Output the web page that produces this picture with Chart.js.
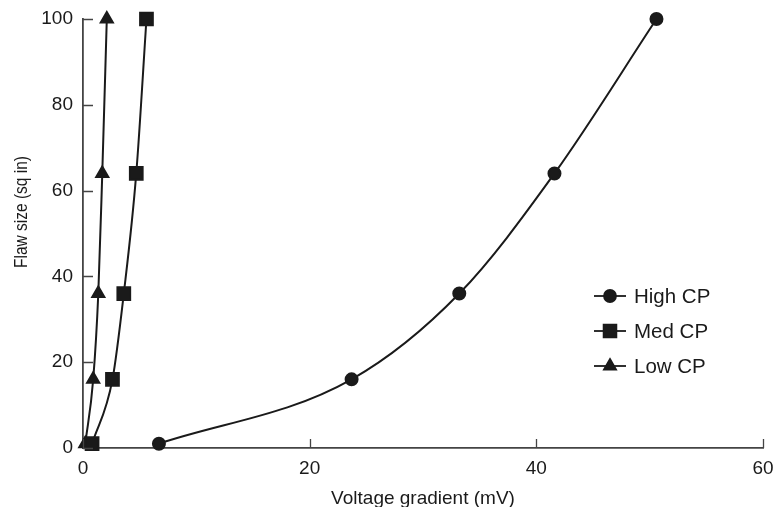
<!DOCTYPE html>
<html>
<head>
<meta charset="utf-8">
<script src="https://cdn.jsdelivr.net/npm/chart.js@4"></script>
<style>
  html, body { margin: 0; padding: 0; background: #fff; }
  #wrap { width: 779px; height: 507px; }
</style>
</head>
<body>
<div id="wrap"><canvas id="chart" width="779" height="507"></canvas></div>
<script>
// data
const seriesNames = ["High CP", "Med CP", "Low CP"];
const flawSize = [1, 16, 36, 64, 100];
const highCP = [6.7, 23.7, 33.2, 41.6, 50.6];
const medCP = [0.8, 2.6, 3.6, 4.7, 5.6];
const lowCP = [0.2, 0.9, 1.35, 1.7, 2.1];
const xTicks = [0, 20, 40, 60];
const yTicks = [0, 20, 40, 60, 80, 100];
const yTitle = "Flaw size (sq in)";

const ink = "#1a1a1a";
const font = "'Liberation Sans', Arial, sans-serif";

function toPoints(xs) {
  return xs.map((x, i) => ({ x: x, y: flawSize[i] }));
}

// inward tick marks, drawn from the scales, plus the (narrow) y title
const innerTicks = {
  id: "innerTicks",
  afterDraw(chart) {
    const ctx = chart.ctx;
    const xs = chart.scales.x, ys = chart.scales.y;
    ctx.save();
    ctx.strokeStyle = "#444";
    ctx.lineWidth = 1.3;
    ctx.beginPath();
    xTicks.forEach((v) => {
      const px = Math.round(xs.getPixelForValue(v)) + 0.5;
      ctx.moveTo(px, ys.bottom);
      ctx.lineTo(px, ys.bottom - 9);
    });
    yTicks.forEach((v) => {
      const py = Math.round(ys.getPixelForValue(v)) + 0.5;
      ctx.moveTo(xs.left, py);
      ctx.lineTo(xs.left + 10, py);
    });
    ctx.stroke();

    ctx.translate(22, 212);
    ctx.rotate(-Math.PI / 2);
    ctx.scale(0.86, 1);
    ctx.fillStyle = ink;
    ctx.font = "18px " + font;
    ctx.textAlign = "center";
    ctx.textBaseline = "middle";
    ctx.fillText(yTitle, 0, 0);
    ctx.restore();
  },
};

// legend with a line through the marker
const lineLegend = {
  id: "lineLegend",
  afterDraw(chart) {
    const ctx = chart.ctx;
    ctx.save();
    chart.data.datasets.forEach((ds, i) => {
      const y = 296 + i * 35;
      ctx.strokeStyle = ink;
      ctx.lineWidth = 1.8;
      ctx.beginPath();
      ctx.moveTo(594, y);
      ctx.lineTo(626, y);
      ctx.stroke();
      Chart.helpers.drawPoint(ctx, {
        pointStyle: ds.pointStyle,
        radius: ds.pointRadius,
        borderWidth: 1,
      }, 610, y);
      ctx.fillStyle = ink;
      ctx.fill();
      ctx.font = "20.5px " + font;
      ctx.textBaseline = "middle";
      ctx.fillText(ds.label, 634, y + 1);
    });
    ctx.restore();
  },
};

function makeSet(label, xs, style, radius) {
  return {
    label: label,
    data: toPoints(xs),
    borderColor: ink,
    backgroundColor: ink,
    borderWidth: 2,
    pointStyle: style,
    pointRadius: radius,
    pointBackgroundColor: ink,
    pointBorderColor: ink,
    cubicInterpolationMode: "monotone",
    showLine: true,
    clip: false,
  };
}

new Chart(document.getElementById("chart"), {
  type: "scatter",
  data: {
    datasets: [
      makeSet(seriesNames[0], highCP, "circle", 6),
      makeSet(seriesNames[1], medCP, "rect", 9),
      makeSet(seriesNames[2], lowCP, "triangle", 7),
    ],
  },
  options: {
    responsive: false,
    animation: false,
    layout: { padding: { top: 19, right: 16, left: 0, bottom: 0 } },
    plugins: { legend: { display: false }, tooltip: { enabled: false } },
    scales: {
      x: {
        type: "linear",
        min: 0,
        max: 60,
        afterFit: (s) => { s.height = 59; s.paddingLeft = 0; s.paddingRight = 0; },
        afterBuildTicks: (s) => { s.ticks = xTicks.map((v) => ({ value: v })); },
        border: { display: true, color: "#444", width: 1.8 },
        grid: { display: false, drawTicks: false },
        ticks: { color: ink, font: { family: font, size: 19 }, padding: 9, maxRotation: 0 },
        title: { display: true, text: "Voltage gradient (mV)", color: ink, font: { family: font, size: 19 }, padding: { top: 0, bottom: -3 } },
      },
      y: {
        type: "linear",
        min: 0,
        max: 100,
        afterFit: (s) => { s.width = 83; s.paddingTop = 0; s.paddingBottom = 0; },
        afterBuildTicks: (s) => { s.ticks = yTicks.map((v) => ({ value: v })); },
        border: { display: true, color: "#444", width: 1.8 },
        grid: { display: false, drawTicks: false },
        ticks: { color: ink, font: { family: font, size: 19 }, padding: 10 },
        title: { display: false },
      },
    },
  },
  plugins: [innerTicks, lineLegend],
});
</script>
</body>
</html>
